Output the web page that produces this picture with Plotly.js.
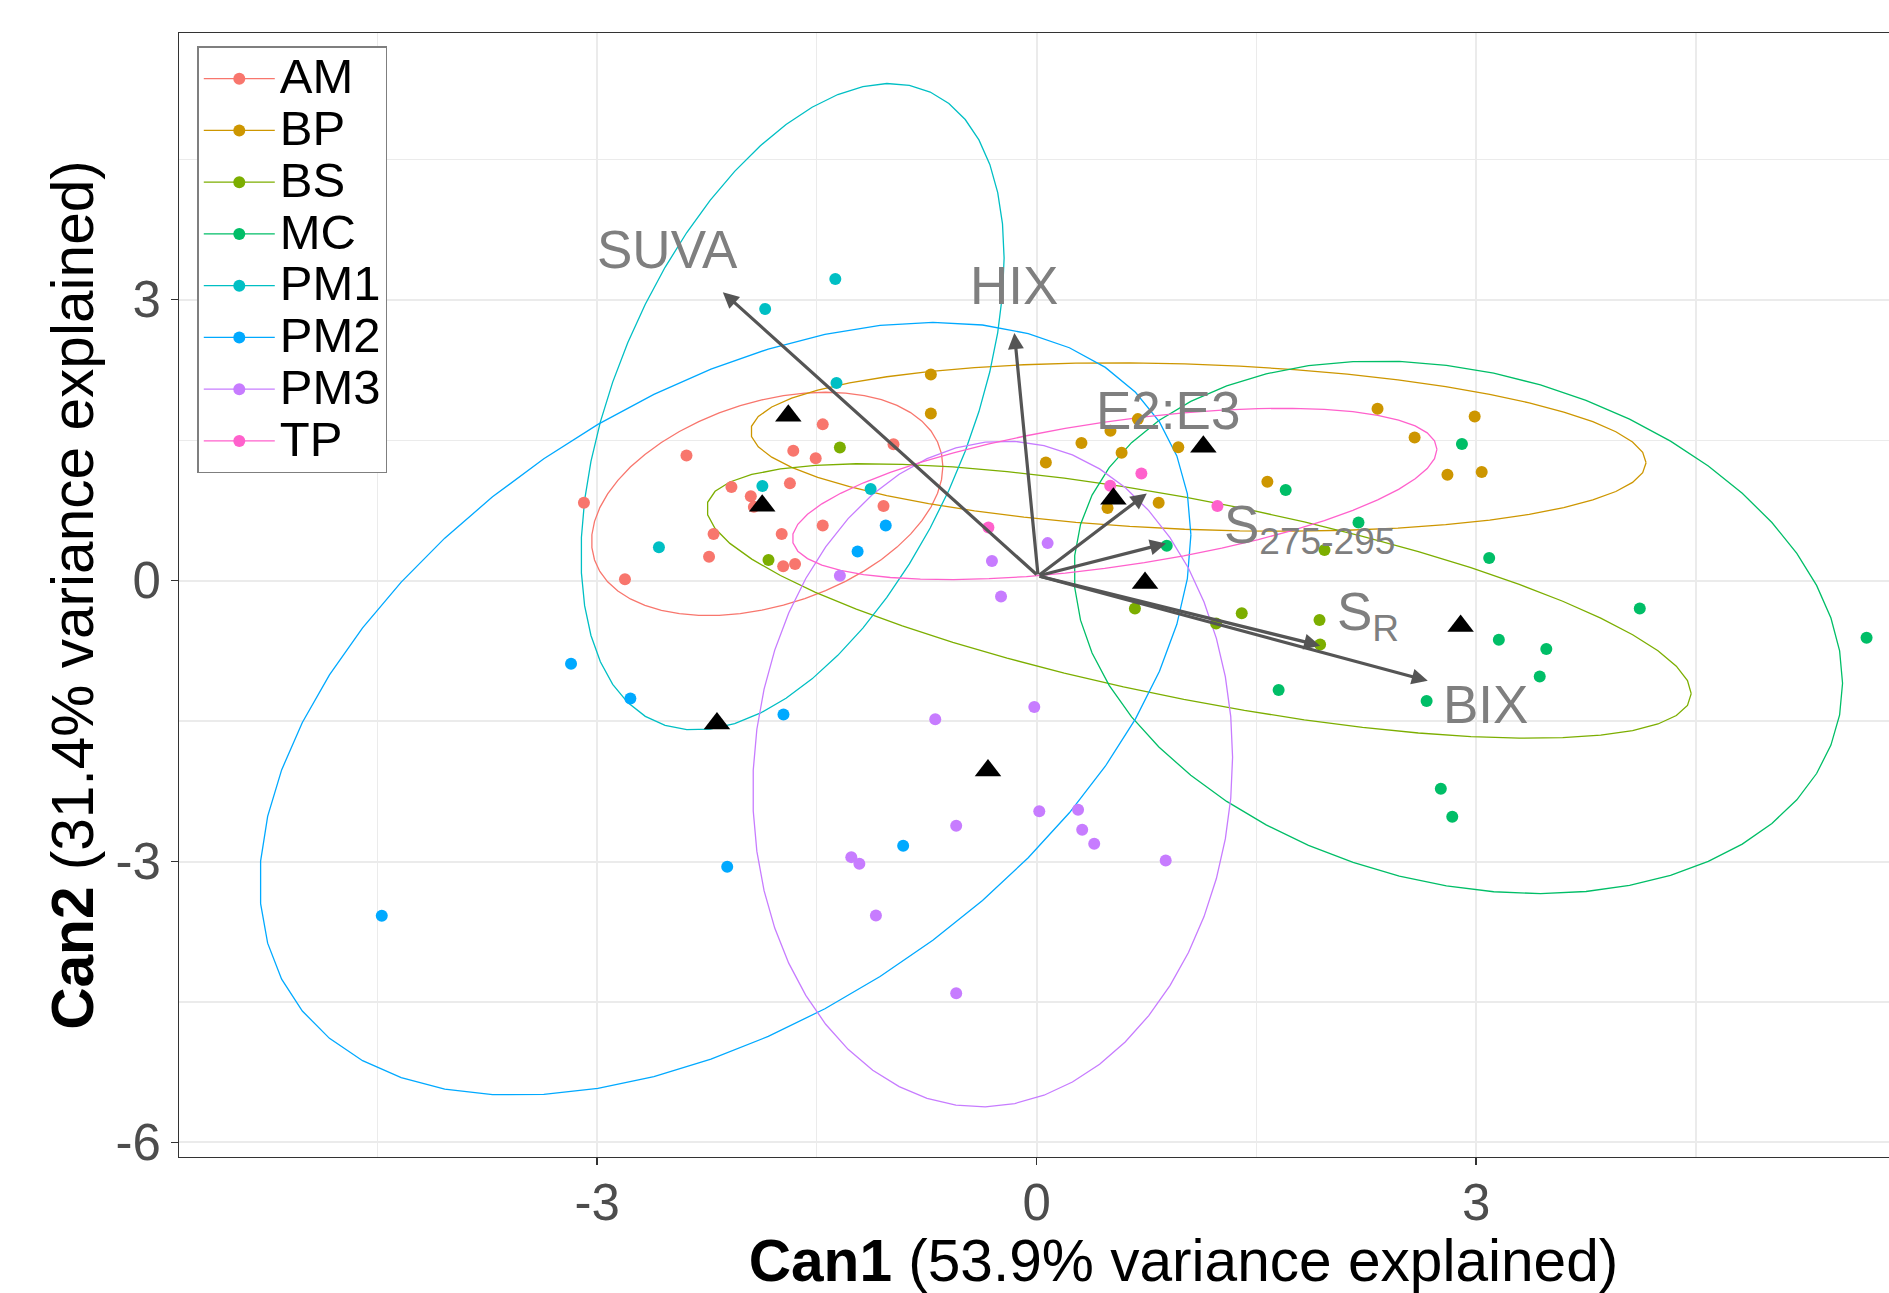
<!DOCTYPE html>
<html>
<head>
<meta charset="utf-8">
<script src="https://cdn.plot.ly/plotly-3.0.1.min.js"></script>
<style>
html,body{margin:0;padding:0;overflow:hidden;background:#ffffff;width:1889px;height:1293px;}
#chart{width:2200px;height:1293px;}
</style>
</head>
<body>
<div id="chart"></div>
<script>
// ---- categories ----
const groups = ['AM','BP','BS','MC','PM1','PM2','PM3','TP'];
const groupColors = ['#F8766D','#CD9600','#7CAE00','#00BE67','#00BFC4','#00A9FF','#C77CFF','#FF61CC'];

// ---- sample scores (Can1, Can2) per group ----
const amX = [-3.09,-2.81,-2.39,-1.46,-1.661,-1.508,-0.977,-2.083,-1.684,-1.951,-1.93,-1.045,-2.205,-1.74,-1.46,-2.236,-1.73,-1.649];
const amY = [0.83,0.015,1.335,1.668,1.386,1.305,1.455,1.0,1.038,0.90,0.787,0.797,0.498,0.498,0.587,0.254,0.153,0.176];
const bpX = [-0.722,-0.722,0.063,0.306,0.504,0.691,0.58,0.967,0.484,0.833,1.575,2.327,2.99,2.58,2.804,3.038];
const bpY = [2.20,1.785,1.262,1.468,1.60,1.724,1.365,1.424,0.774,0.832,1.056,1.834,1.753,1.528,1.13,1.16];
const bsX = [-1.343,-1.83,0.671,1.40,1.225,1.931,1.935,1.965];
const bsY = [1.42,0.22,-0.297,-0.349,-0.458,-0.42,-0.683,0.327];
const mcX = [1.70,0.888,2.197,2.903,3.089,1.652,2.662,4.117,3.155,3.479,3.434,5.665,2.759,2.837];
const mcY = [0.967,0.372,0.62,1.458,0.24,-1.168,-1.286,-0.297,-0.631,-0.731,-1.025,-0.611,-2.224,-2.523];
const pm1X = [-1.374,-1.853,-1.366,-1.872,-1.133,-2.578];
const pm1Y = [3.22,2.90,2.11,1.01,0.977,0.355];
const pm2X = [-1.03,-1.222,-3.178,-2.773,-4.47,-1.728,-0.911,-2.112];
const pm2Y = [0.587,0.31,-0.888,-1.258,-3.58,-1.43,-2.832,-3.055];
const pm3X = [-1.343,0.075,-0.305,-0.243,-0.692,-0.016,0.018,0.283,0.311,0.393,-0.549,-1.265,-1.21,0.881,-1.097,-0.549];
const pm3Y = [0.052,0.40,0.208,-0.17,-1.481,-1.35,-2.462,-2.447,-2.66,-2.81,-2.619,-2.953,-3.024,-2.989,-3.576,-4.406];
const tpX = [-0.329,0.715,0.502,1.234];
const tpY = [0.567,1.144,1.013,0.797];

// ---- group centroids (black triangles) ----
const meanX = [-1.873,1.138,0.74,2.894,-1.695,-2.182,-0.332,0.524];
const meanY = [0.80,1.43,-0.027,-0.484,1.76,-1.526,-2.028,0.874];

// ---- 95% ellipses: centre, half-width, half-height, correlation ----
const ellCX = [-1.839,1.104,1.108,2.878,-1.666,-2.125,-0.30,0.5325];
const ellCY = [0.819,1.426,-0.218,-0.499,1.856,-1.369,-2.065,0.925];
const ellW  = [1.199,3.056,3.36,2.623,1.444,3.178,1.6375,2.2];
const ellH  = [1.192,0.899,1.466,2.844,3.452,4.127,3.555,0.915];
const ellR  = [0.335,-0.186,-0.675,-0.21,0.46,0.45,0.05,0.52];

// ---- structure vectors ----
const vecNames = ['SUVA','HIX','E2:E3','S<sub>275-295</sub>','S<sub>R</sub>','BIX'];
const vecOriginX = 0.01, vecOriginY = 0.05;
const vecX = [-2.142,-0.152,0.752,0.883,1.935,2.67];
const vecY = [3.08,2.643,0.931,0.397,-0.695,-1.07];
const vecLabelX = [-2.523,-0.156,0.900,1.860,2.262,3.065];
const vecLabelY = [3.537,3.154,1.811,0.561,-0.373,-1.319];

// ---- axis ticks ----
const xTickVals = [-3,0,3];
const xTickText = ['-3','0','3'];
const yTickVals = [-6,-3,0,3];
const yTickText = ['-6','-3','0','3'];

const groupX = [amX,bpX,bsX,mcX,pm1X,pm2X,pm3X,tpX];
const groupY = [amY,bpY,bsY,mcY,pm1Y,pm2Y,pm3Y,tpY];

const FONT = 'Liberation Sans, Arial, Helvetica, sans-serif';
const traces = [];

// ellipses (stat_ellipse style polygon, 51 segments)
groups.forEach((g,i)=>{
  const xs=[], ys=[];
  const n=51, s=Math.sqrt(1-ellR[i]*ellR[i]);
  for(let k=0;k<=n;k++){
    const t=2*Math.PI*k/n;
    xs.push(ellCX[i]+ellW[i]*Math.cos(t));
    ys.push(ellCY[i]+ellH[i]*(ellR[i]*Math.cos(t)+s*Math.sin(t)));
  }
  traces.push({x:xs,y:ys,type:'scatter',mode:'lines',showlegend:false,hoverinfo:'skip',
    line:{color:groupColors[i],width:1.3},legendgroup:g});
});

// points
groups.forEach((g,i)=>{
  traces.push({x:groupX[i],y:groupY[i],type:'scatter',mode:'markers',showlegend:false,
    name:g,legendgroup:g,marker:{color:groupColors[i],size:12}});
});

// centroids
traces.push({x:meanX,y:meanY,type:'scatter',mode:'markers',showlegend:false,
  marker:{symbol:'triangle-up',color:'#000000',size:23}});

// legend entries (point + line key)
groups.forEach((g,i)=>{
  traces.push({x:[null],y:[null],type:'scatter',mode:'lines+markers',
    name:'<span style="font-size:49px">'+g+'</span>',legendgroup:g,showlegend:true,
    line:{color:groupColors[i],width:1.3},marker:{color:groupColors[i],size:12}});
});

const annotations = [];
// vector arrows (tail at origin, head at vector tip)
vecNames.forEach((nm,i)=>{
  annotations.push({x:vecX[i],y:vecY[i],ax:vecOriginX,ay:vecOriginY,xref:'x',yref:'y',axref:'x',ayref:'y',
    text:'',showarrow:true,arrowhead:2,arrowsize:1.0,arrowwidth:3.2,arrowcolor:'#555555'});
});
// vector labels
vecNames.forEach((nm,i)=>{
  annotations.push({x:vecLabelX[i],y:vecLabelY[i],xref:'x',yref:'y',text:nm,showarrow:false,
    xanchor:'center',yanchor:'middle',font:{family:FONT,size:53,color:'#7F7F7F'}});
});

const axisCommon = {
  tickmode:'array',showgrid:true,gridcolor:'#EBEBEB',gridwidth:2,zeroline:false,
  showline:true,mirror:true,linecolor:'#333333',linewidth:1.4,
  ticks:'outside',ticklen:6.5,tickwidth:1.4,tickcolor:'#333333',
  tickfont:{family:FONT,size:51,color:'#4D4D4D'},
  minor:{tickmode:'linear',tick0:0,dtick:1.5,showgrid:true,gridcolor:'#EBEBEB',gridwidth:1.2,ticks:''}
};

const layout = {
  width:2200,height:1293,
  margin:{l:179,r:12,t:33,b:136},
  paper_bgcolor:'#ffffff',plot_bgcolor:'#ffffff',
  font:{family:FONT,color:'#000000'},
  showlegend:true,
  legend:{x:0.0091,y:0.9882,xanchor:'left',yanchor:'top',bgcolor:'#ffffff',
    bordercolor:'#7F7F7F',borderwidth:1.5,font:{family:FONT,size:37.5,color:'#000000'},
    itemwidth:71,tracegroupgap:0,traceorder:'normal'},
  xaxis:Object.assign({},axisCommon,{range:[-5.854,7.859],tickvals:xTickVals,ticktext:xTickText,
    ticklabelstandoff:-6,
    title:{text:'<b>Can1</b> (53.9% variance explained)',font:{family:FONT,size:58.6,color:'#000000'},standoff:14}}),
  yaxis:Object.assign({},axisCommon,{range:[-6.155,5.847],tickvals:yTickVals,ticktext:yTickText,
    title:{text:'<b>Can2</b> (31.4% variance explained)',font:{family:FONT,size:58.6,color:'#000000'},standoff:3}}),
  annotations:annotations
};

Plotly.newPlot('chart',traces,layout,{staticPlot:true,displayModeBar:false});
</script>
</body>
</html>
